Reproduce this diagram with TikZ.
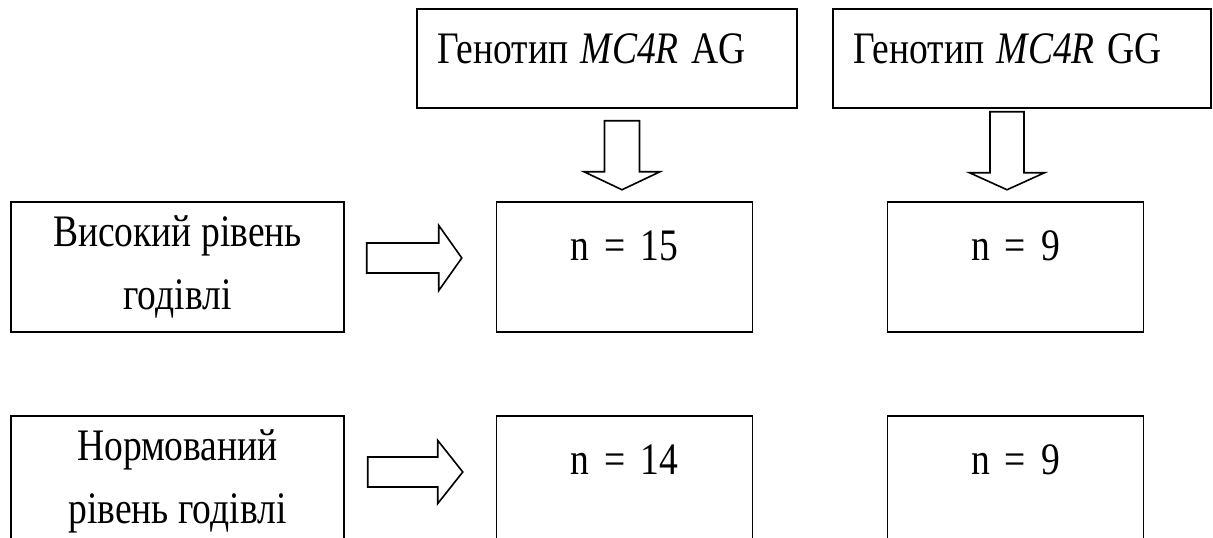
\documentclass[tikz,border=0pt]{standalone}
\usepackage{fontspec}
\setmainfont{Liberation Serif}
\usepackage{graphicx}
\usetikzlibrary{calc}

% text in the reference is a little taller than wide
\newcommand{\tallt}[1]{\scalebox{1}[1.2]{#1}}

\tikzset{
    box/.style={draw, line width=0.6pt, inner sep=0pt, font=\fontsize{14}{23.5}\selectfont},
    genebox/.style={box, minimum width=#1, minimum height=36.9pt, inner xsep=7.8pt,
        text width=#1-15.6pt, align=left, text height=12pt, text depth=8.6pt},
    feedbox/.style={box, minimum width=124.2pt, minimum height=48.5pt, align=center},
    countbox/.style={box, minimum width=95.5pt, minimum height=48.5pt,
        text height=12pt, text depth=17.2pt},
    arrowline/.style={draw, line width=0.6pt, line join=miter},
    pics/fatarrow/.style n args={4}{code={
        \draw[arrowline] (0,{-#3/2}) -- ({#1-#2},{-#3/2}) -- ({#1-#2},{-#4/2}) -- (#1,0)
            -- ({#1-#2},{#4/2}) -- ({#1-#2},{#3/2}) -- (0,{#3/2}) -- cycle;
    }}
}

\begin{document}
\begin{tikzpicture}[x=0.373pt, y=-0.373pt]
    \clip (0,0) rectangle (1213,538);
    \fill[white] (0,0) rectangle (1213,538);

    % genotypes
    \node[genebox=141.7pt] (geneAG) at (607,58.5) {\tallt{Генотип \textit{MC4R} AG}};
    \node[genebox=141.0pt] (geneGG) at (1022,58.5) {\tallt{Генотип \textit{MC4R} GG}};

    % feeding levels
    \node[feedbox] (feedHigh) at (177.5,267) {\tallt{Високий рівень}\\\tallt{годівлі}};
    \node[feedbox] (feedNorm) at (177.5,481) {\tallt{Нормований}\\\tallt{рівень годівлі}};

    % groups
    \node[countbox] (countAGhigh) at (624.5,267) {\tallt{n\hspace{0.4em}=\hspace{0.4em}15}};
    \node[countbox] (countGGhigh) at (1015.5,267) {\tallt{n\hspace{0.4em}=\hspace{0.4em}9}};
    \node[countbox] (countAGnorm) at (624.5,481) {\tallt{n\hspace{0.4em}=\hspace{0.4em}14}};
    \node[countbox] (countGGnorm) at (1015.5,481) {\tallt{n\hspace{0.4em}=\hspace{0.4em}9}};

    % block arrows
    \pic[rotate=-90] at ($(geneAG.south)+(15,12)$) {fatarrow={69}{18}{35}{76}};
    \pic[rotate=-90] at ($(geneGG.south)+(-15,3)$) {fatarrow={78}{17}{34}{75}};
    \pic at ($(feedHigh.east)+(22,-9)$) {fatarrow={95}{23}{30}{65}};
    \pic at ($(feedNorm.east)+(23,-9)$) {fatarrow={95}{25}{30}{63}};
\end{tikzpicture}
\end{document}
